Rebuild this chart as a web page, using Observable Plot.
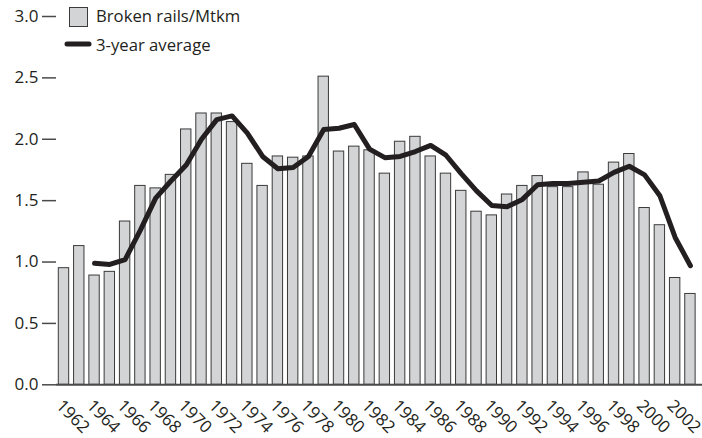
<!DOCTYPE html>
<html>
<head>
<meta charset="utf-8">
<script src="https://cdn.jsdelivr.net/npm/d3@7"></script>
<script src="https://cdn.jsdelivr.net/npm/@observablehq/plot@0.6"></script>
<style>
  html, body { margin: 0; padding: 0; background: #fff; }
  #wrap { position: relative; width: 702px; height: 438px; font-family: "Open Sans", sans-serif; color: #231f20; }
  #legend { position: absolute; left: 0; top: 0; }
</style>
</head>
<body>
<div id="wrap"></div>
<script>
const years = [1962,1963,1964,1965,1966,1967,1968,1969,1970,1971,1972,1973,1974,1975,1976,1977,1978,1979,1980,1981,1982,1983,1984,1985,1986,1987,1988,1989,1990,1991,1992,1993,1994,1995,1996,1997,1998,1999,2000,2001,2002,2003];
const brokenRails = [0.95,1.13,0.89,0.92,1.33,1.62,1.60,1.71,2.08,2.21,2.21,2.14,1.80,1.62,1.86,1.85,1.86,2.51,1.90,1.94,1.91,1.72,1.98,2.02,1.86,1.72,1.58,1.41,1.38,1.55,1.62,1.70,1.61,1.61,1.73,1.63,1.81,1.88,1.44,1.30,0.87,0.74];
const avgYears = [1964,1965,1966,1967,1968,1969,1970,1971,1972,1973,1974,1975,1976,1977,1978,1979,1980,1981,1982,1983,1984,1985,1986,1987,1988,1989,1990,1991,1992,1993,1994,1995,1996,1997,1998,1999,2000,2001,2002,2003];
const avgValues = [0.99,0.98,1.02,1.26,1.52,1.66,1.79,2.00,2.16,2.19,2.05,1.86,1.76,1.77,1.86,2.08,2.09,2.12,1.92,1.85,1.86,1.90,1.95,1.87,1.72,1.58,1.46,1.45,1.51,1.63,1.64,1.64,1.65,1.66,1.73,1.78,1.71,1.54,1.20,0.97];
const yTicks = [0, 0.5, 1.0, 1.5, 2.0, 2.5, 3.0];
const xTickYears = [1962,1964,1966,1968,1970,1972,1974,1976,1978,1980,1982,1984,1986,1988,1990,1992,1994,1996,1998,2000,2002];
const legendLabels = ["Broken rails/Mtkm", "3-year average"];

const bars = years.map((year, i) => ({year, value: brokenRails[i]}));
const avg = avgYears.map((year, i) => ({year, value: avgValues[i]}));
const halfBar = 0.34;

const chart = Plot.plot({
  width: 702,
  height: 438,
  marginLeft: 56,
  marginRight: 0,
  marginTop: 16,
  marginBottom: 53.7,
  style: { fontFamily: "'Open Sans', sans-serif", fontSize: "17px", color: "#231f20", background: "#fff", overflow: "visible" },
  x: { type: "linear", domain: [1961.51, 2003.79], label: null },
  y: { domain: [0, 3], label: null },
  marks: [
    Plot.rectY(bars, { x1: d => d.year - halfBar, x2: d => d.year + halfBar, y: "value", fill: "#d3d4d6", stroke: "#3a3a3a", strokeWidth: 1 }),
    Plot.ruleY([0], { stroke: "#4a4a4a", strokeWidth: 2 }),
    Plot.line(avg, { x: "year", y: "value", stroke: "#231f20", strokeWidth: 5, curve: "linear", strokeLinejoin: "round", strokeLinecap: "round" }),
    Plot.axisY({ ticks: yTicks, tickSize: 14, tickPadding: 4, tickFormat: d => d.toFixed(1), stroke: "#4a4a4a", strokeWidth: 1.5, fill: "#231f20", label: null }),
    Plot.axisX({ ticks: xTickYears, tickSize: 0, tickRotate: 45, tickPadding: 18, dx: -5, tickFormat: d => String(d), fill: "#231f20", label: null })
  ]
});
const wrap = document.getElementById("wrap");
wrap.appendChild(chart);

const ns = "http://www.w3.org/2000/svg";
const leg = document.createElementNS(ns, "svg");
leg.setAttribute("id", "legend");
leg.setAttribute("width", 260);
leg.setAttribute("height", 60);
leg.innerHTML = `
  <rect x="69.5" y="7.5" width="18" height="19" fill="#d3d4d6" stroke="#3a3a3a" stroke-width="1"/>
  <text x="96" y="22" font-family="'Open Sans', sans-serif" font-size="16.7" fill="#231f20">${legendLabels[0]}</text>
  <line x1="67" y1="44" x2="89" y2="44" stroke="#231f20" stroke-width="5" stroke-linecap="round"/>
  <text x="96" y="50.5" font-family="'Open Sans', sans-serif" font-size="16.7" fill="#231f20">${legendLabels[1]}</text>
`;
wrap.appendChild(leg);
</script>
</body>
</html>
